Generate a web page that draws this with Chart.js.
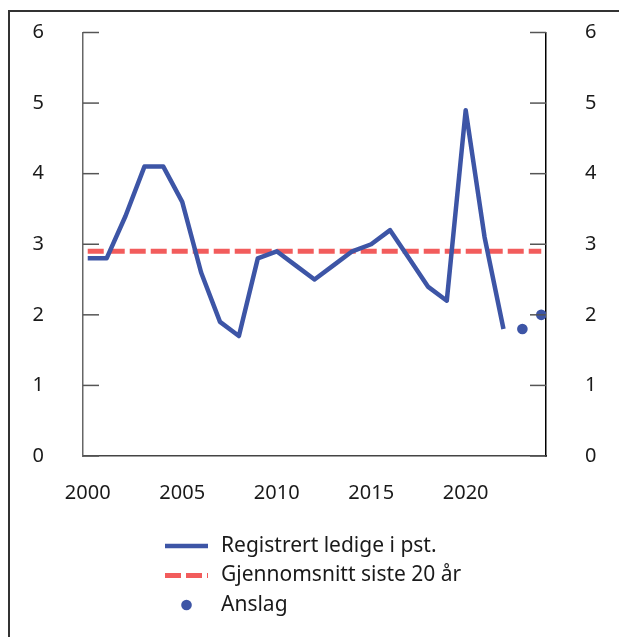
<!DOCTYPE html>
<html><head><meta charset="utf-8">
<script src="https://cdn.jsdelivr.net/npm/chart.js@4.4.1/dist/chart.umd.min.js"></script>
<style>html,body{margin:0;padding:0;background:#fff}#wrap{position:relative;width:619px;height:637px}canvas{display:block}</style>
</head><body><div id="wrap"><canvas id="c" width="619" height="637"></canvas></div>
<script>
const years = [2000,2001,2002,2003,2004,2005,2006,2007,2008,2009,2010,2011,2012,2013,2014,2015,2016,2017,2018,2019,2020,2021,2022];
const registeredUnemployment = [2.8,2.8,3.4,4.1,4.1,3.6,2.6,1.9,1.7,2.8,2.9,2.7,2.5,2.7,2.9,3.0,3.2,2.8,2.4,2.2,4.9,3.1,1.8];
const forecastYears = [2023,2024];
const forecastValues = [1.8,2.0];
const averageYears = [2000,2024];
const averageValues = [2.9,2.9];
const xTickLabels = [2000,2005,2010,2015,2020];
const yTickLabels = [0,1,2,3,4,5,6];
const legendLabels = ['Registrert ledige i pst.','Gjennomsnitt siste 20 år','Anslag'];

const BLUE = '#3d55a6';
const RED = '#f25c5c';
const TEXT = '#1a1a1a';
const FONT = '"Noto Sans", "Open Sans", sans-serif';

const frame = {
  id: 'frame',
  beforeDraw(chart) {
    const ctx = chart.ctx;
    ctx.save();
    ctx.fillStyle = '#333';
    ctx.fillRect(8, 10, 2, chart.height - 10);
    ctx.fillRect(8, 10, chart.width - 8, 2);
    ctx.restore();
  }
};

const innerTicks = {
  id: 'innerTicks',
  afterDraw(chart) {
    const ctx = chart.ctx, a = chart.chartArea;
    ctx.save();
    ctx.lineWidth = 1.5;
    ctx.strokeStyle = '#555';
    const yl = chart.scales.y, yr = chart.scales.y2;
    yTickLabels.forEach(v => {
      const p = yl.getPixelForValue(v);
      ctx.beginPath(); ctx.moveTo(a.left, p); ctx.lineTo(a.left + 16, p); ctx.stroke();
      const q = yr.getPixelForValue(v);
      ctx.beginPath(); ctx.moveTo(a.right - 16, q); ctx.lineTo(a.right, q); ctx.stroke();
    });
    ctx.restore();
  }
};

const listLegend = {
  id: 'listLegend',
  afterDraw(chart) {
    const ctx = chart.ctx, a = chart.chartArea;
    const ds = chart.data.datasets;
    const x0 = a.left + 82, len = 43, tx = a.left + 138;
    const rows = [a.bottom + 90, a.bottom + 119.5, a.bottom + 149];
    ctx.save();
    ctx.lineCap = 'butt';
    ctx.strokeStyle = ds[0].borderColor; ctx.lineWidth = ds[0].borderWidth; ctx.setLineDash([]);
    ctx.beginPath(); ctx.moveTo(x0, rows[0]); ctx.lineTo(x0 + len, rows[0]); ctx.stroke();
    ctx.strokeStyle = ds[1].borderColor; ctx.lineWidth = ds[1].borderWidth; ctx.setLineDash(ds[1].borderDash);
    ctx.beginPath(); ctx.moveTo(x0, rows[1]); ctx.lineTo(x0 + len, rows[1]); ctx.stroke();
    ctx.setLineDash([]);
    ctx.fillStyle = ds[2].pointBackgroundColor;
    ctx.beginPath(); ctx.arc(x0 + len / 2, rows[2], ds[2].pointRadius, 0, Math.PI * 2); ctx.fill();
    ctx.fillStyle = TEXT;
    ctx.font = '21px ' + FONT;
    ctx.textBaseline = 'middle';
    ctx.textAlign = 'left';
    legendLabels.forEach((t, i) => ctx.fillText(t, tx, rows[i]));
    ctx.restore();
  }
};

const yAxisCommon = {
  type: 'linear', min: 0, max: 6,
  afterBuildTicks: s => { s.ticks = yTickLabels.map(v => ({ value: v })); },
  ticks: { font: { family: FONT, size: 20 }, color: TEXT, padding: 39, callback: v => String(v) },
  grid: { display: false, drawTicks: false }
};

new Chart(document.getElementById('c'), {
  type: 'line',
  data: {
    datasets: [
      {
        label: legendLabels[0],
        data: years.map((x, i) => ({ x, y: registeredUnemployment[i] })),
        borderColor: BLUE, backgroundColor: BLUE, borderWidth: 4.5, borderJoinStyle: 'round',
        pointRadius: 0, tension: 0, fill: false, yAxisID: 'y'
      },
      {
        label: legendLabels[1],
        data: averageYears.map((x, i) => ({ x, y: averageValues[i] })),
        borderColor: RED, backgroundColor: RED, borderWidth: 5, borderDash: [16, 5],
        pointRadius: 0, tension: 0, fill: false, yAxisID: 'y'
      },
      {
        label: legendLabels[2],
        data: forecastYears.map((x, i) => ({ x, y: forecastValues[i] })),
        showLine: false, borderColor: BLUE, pointBackgroundColor: BLUE,
        pointBorderWidth: 0, pointRadius: 5.3, yAxisID: 'y'
      }
    ]
  },
  options: {
    responsive: false, animation: false, devicePixelRatio: 1,
    layout: { padding: { top: 32.5, left: 0, right: 0, bottom: 0 } },
    plugins: { legend: { display: false }, tooltip: { enabled: false } },
    scales: {
      x: {
        type: 'linear', min: 1999.75, max: 2024.25,
        afterBuildTicks: s => { s.ticks = xTickLabels.map(v => ({ value: v })); },
        afterFit: s => { s.height = 181; s.paddingLeft = 0; s.paddingRight = 0; },
        ticks: { font: { family: FONT, size: 20 }, color: TEXT, padding: 25, maxRotation: 0, autoSkip: false, callback: v => String(v) },
        grid: { display: false, drawTicks: false },
        border: { display: true, color: '#444', width: 1.5 }
      },
      y: Object.assign({}, yAxisCommon, {
        position: 'left',
        afterFit: s => { s.width = 83; s.paddingTop = 12; s.paddingBottom = 12; },
        border: { display: true, color: '#666', width: 1.5 }
      }),
      y2: Object.assign({}, yAxisCommon, {
        position: 'right',
        afterFit: s => { s.width = 73; s.paddingTop = 12; s.paddingBottom = 12; },
        border: { display: true, color: '#000', width: 1.5 }
      })
    }
  },
  plugins: [frame, innerTicks, listLegend]
});
</script>
</body></html>
